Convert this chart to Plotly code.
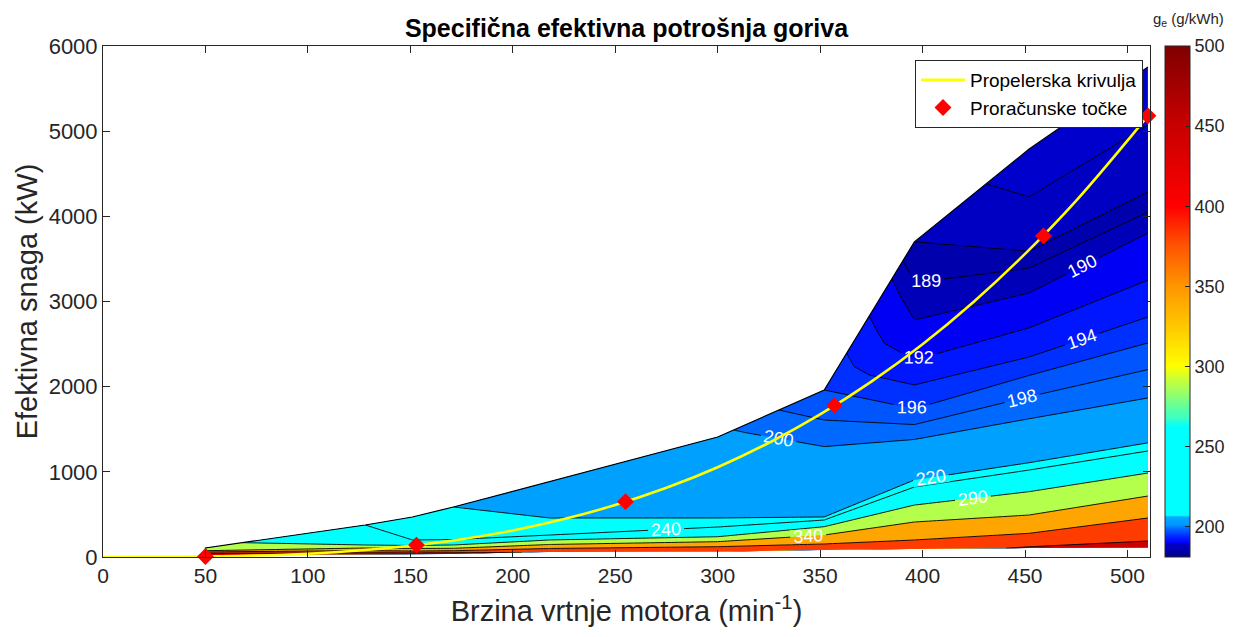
import plotly.graph_objects as go

# ---------------- data ----------------
# engine-map grid: columns = engine speed (min^-1), rows = nodes from low load (bottom) to full load (top)
rpm_cols = [50, 128, 151, 171, 218, 300, 352, 396, 452, 510]

# effective power at each node (kW)
P_grid = [
    [23, 30, 32, 35, 59, 62, 82, 95, 105, 110],
    [43, 50, 48, 50, 59, 62, 82, 95, 120, 188],
    [59, 76, 70, 74, 100, 121, 153, 200, 278, 458],
    [74, 106, 100, 102, 147, 180, 258, 411, 493, 716],
    [106, 141, 135, 141, 200, 238, 356, 610, 767, 986],
    [106, 376, 200, 205, 258, 352, 434, 822, 1021, 1245],
    [106, 376, 470, 587, 458, 458, 470, 904, 1107, 1340],
    [106, 376, 470, 587, 886, 1409, 1296, 1380, 1623, 1867],
    [106, 376, 470, 587, 886, 1409, 1608, 1555, 1883, 2200],
    [106, 376, 470, 587, 886, 1409, 1961, 1740, 2132, 2513],
    [106, 376, 470, 587, 886, 1409, 1961, 2020, 2348, 2818],
    [106, 376, 470, 587, 886, 1409, 1961, 2313, 2690, 3250],
    [106, 376, 470, 587, 886, 1409, 1961, 2783, 3100, 3804],
    [106, 376, 470, 587, 886, 1409, 1961, 3217, 3393, 4050],
    [106, 376, 470, 587, 886, 1409, 1961, 3700, 3590, 4285],
    [106, 376, 470, 587, 886, 1409, 1961, 3700, 4227, 5072],
    [106, 376, 470, 587, 886, 1409, 1961, 3700, 4790, 5753],
]

# specific effective fuel consumption at each node (g/kWh)
ge_grid = [
    [500, 470, 470, 465, 430, 420, 424, 432, 442, 455],
    [440, 440, 440, 440, 430, 420, 424, 432, 440, 440],
    [390, 390, 390, 390, 390, 390, 390, 390, 390, 390],
    [340, 340, 340, 340, 340, 340, 340, 340, 340, 340],
    [305, 290, 290, 290, 290, 290, 290, 290, 290, 290],
    [305, 240, 240, 240, 240, 240, 240, 240, 240, 240],
    [305, 240, 230, 220, 220, 220, 220, 220, 220, 220],
    [305, 240, 230, 220, 212, 200.7, 200, 200, 200, 200],
    [305, 240, 230, 220, 212, 200.7, 198, 198, 198, 198],
    [305, 240, 230, 220, 212, 200.7, 196, 196, 196, 196],
    [305, 240, 230, 220, 212, 200.7, 196, 194, 194, 194],
    [305, 240, 230, 220, 212, 200.7, 196, 192, 192, 192],
    [305, 240, 230, 220, 212, 200.7, 196, 190, 190, 190],
    [305, 240, 230, 220, 212, 200.7, 196, 189, 189, 189],
    [305, 240, 230, 220, 212, 200.7, 196, 188, 188, 188],
    [305, 240, 230, 220, 212, 200.7, 196, 188, 187, 187],
    [305, 240, 230, 220, 212, 200.7, 196, 188, 186.4, 186.1],
]

# propeller curve
prop_rpm = [0, 25, 50, 75, 100, 125, 150, 175, 200, 225, 250, 275, 300, 325, 350,
            375, 400, 425, 450, 475, 510]
prop_P = [0, 1, 5, 17, 39, 76, 132, 209, 312, 445, 610, 812, 1054, 1341, 1674,
          2059, 2499, 2998, 3559, 4185, 5180]

# calculation points
pts_rpm = [50, 153, 255, 357, 459, 510]
pts_P = [5, 140, 650, 1780, 3770, 5180]

# colorbar
cb_min, cb_max = 181, 500
cb_ticks = [200, 250, 300, 350, 400, 450, 500]

# ---------------- styling ----------------
FONT = "Liberation Sans, Arial, Helvetica, sans-serif"
TXT = "#262626"
EPS = 0.001
TR = "rgba(0,0,0,0)"
FIG_W, FIG_H = 1225, 629

n_rows = len(P_grid)
n_cols = len(rpm_cols)
x2d = [[rpm_cols[i] for i in range(n_cols)] for _ in range(n_rows)]

fig = go.Figure()

axis_hidden = dict(showgrid=False, showline=False, showticklabels="none",
                   startline=False, endline=False, minorgridcount=0,
                   smoothing=0, color=TR)
fig.add_trace(go.Carpet(
    carpet="map",
    a=list(range(n_cols)), b=list(range(n_rows)),
    x=x2d, y=P_grid,
    aaxis=axis_hidden, baxis=axis_hidden,
))


def scale(colors):
    n = len(colors) - 1
    return [[i / n, c] for i, c in enumerate(colors)]


# filled bands (stacked groups: each later group paints over regions of higher ge)
fill_groups = [
    (187, 189, 1, ["rgb(0,0,205)", "rgb(0,0,195)", "rgb(0,0,172)", "rgb(0,0,185)"]),
    (190, 198, 2, [TR, "rgb(0,0,245)", "rgb(0,22,255)", "rgb(0,48,255)",
                   "rgb(0,85,255)", "rgb(0,105,255)"]),
    (200, 220, 20, [TR, "rgb(0,160,255)", "rgb(0,255,255)"]),
    (240, 440, 50, [TR, "rgb(0,255,255)", "rgb(180,255,75)", "rgb(255,165,0)",
                    "rgb(255,60,0)", "rgb(205,0,0)"]),
]
for s, e, sz, cols in fill_groups:
    fig.add_trace(go.Contourcarpet(
        carpet="map", z=ge_grid, autocontour=False, showlegend=False,
        contours=dict(start=s - EPS, end=e - EPS, size=sz, coloring="fill",
                      showlines=False),
        colorscale=scale(cols), showscale=False, line=dict(width=0, smoothing=0),
    ))

# contour lines with labels
line_groups = [(187, 190, 1), (192, 200, 2), (220, 240, 20), (290, 440, 50)]
for s, e, sz in line_groups:
    fig.add_trace(go.Contourcarpet(
        carpet="map", z=ge_grid, autocontour=False, showlegend=False,
        contours=dict(start=s - EPS, end=e - EPS, size=sz, coloring="none",
                      showlines=True, showlabels=True, labelformat=".0f",
                      labelfont=dict(family=FONT, size=18, color="white")),
        line=dict(color="black", width=0.9, smoothing=0), showscale=False,
    ))

# outline of the map
fig.add_trace(go.Scatter(
    x=[rpm_cols[0]] + rpm_cols, y=[P_grid[0][0]] + P_grid[-1],
    mode="lines", line=dict(color="black", width=1.2),
    showlegend=False, hoverinfo="skip",
))

# propeller curve & points
fig.add_trace(go.Scatter(
    x=prop_rpm, y=prop_P, mode="lines", line=dict(color="#ffff00", width=2.6, shape="spline"),
    name="Propelerska krivulja",
))
fig.add_trace(go.Scatter(
    x=pts_rpm, y=pts_P, mode="markers", cliponaxis=False,
    marker=dict(symbol="diamond", size=13, color="#ff0000"),
    name="Proračunske točke",
))

# colorbar (dummy trace)
cb_stops = [
    (181, "rgb(0,0,140)"), (189, "rgb(0,0,200)"), (190, "rgb(0,0,255)"),
    (193, "rgb(0,30,255)"), (196, "rgb(0,70,255)"), (199, "rgb(0,110,255)"),
    (201, "rgb(0,150,255)"), (206, "rgb(0,170,255)"), (207, "rgb(0,255,255)"),
    (262, "rgb(0,255,255)"), (268, "rgb(60,255,195)"), (275, "rgb(100,255,155)"),
    (283, "rgb(150,255,105)"), (292, "rgb(200,255,55)"), (300, "rgb(255,255,0)"),
    (325, "rgb(255,200,0)"), (350, "rgb(255,150,0)"), (375, "rgb(255,85,0)"),
    (400, "rgb(255,0,0)"), (450, "rgb(200,0,0)"), (500, "rgb(128,0,0)"),
]
cb_scale = [[(v - cb_min) / (cb_max - cb_min), c] for v, c in cb_stops]
fig.add_trace(go.Scatter(
    x=[-100], y=[-100], mode="markers", showlegend=False, hoverinfo="skip",
    marker=dict(size=1, color=[cb_min], cmin=cb_min, cmax=cb_max, colorscale=cb_scale,
                showscale=True,
                colorbar=dict(xref="container", x=(1165 - 8) / FIG_W, xanchor="left",
                              xpad=0, ypad=0, y=0.5, yanchor="middle",
                              len=1, lenmode="fraction", thickness=25,
                              outlinewidth=1, outlinecolor=TXT,
                              tickvals=cb_ticks, ticks="inside", ticklen=5, tickcolor=TXT,
                              tickfont=dict(family=FONT, size=18, color=TXT))),
))

fig.add_annotation(text="g<sub>e</sub> (g/kWh)", xref="paper", yref="paper",
                   x=1.0363, y=1.051, xanchor="center", yanchor="middle", showarrow=False,
                   font=dict(family=FONT, size=15, color=TXT))

fig.update_layout(
    width=FIG_W, height=FIG_H, autosize=False,
    margin=dict(l=95, r=83, t=38, b=80),
    plot_bgcolor="white", paper_bgcolor="white",
    font=dict(family=FONT, color=TXT),
    title=dict(text="<b>Specifična efektivna potrošnja goriva</b>", x=0.5, xanchor="center",
               xref="paper", y=0.968, yanchor="middle",
               font=dict(family=FONT, size=25, color="black")),
    xaxis=dict(range=[0, 511], tickvals=list(range(0, 501, 50)), ticks="inside", ticklen=7,
               tickcolor=TXT, mirror="ticks", showline=True, linecolor=TXT, linewidth=1,
               showgrid=False, zeroline=False, automargin=False,
               tickfont=dict(size=21, color=TXT),
               title=dict(text="Brzina vrtnje motora (min<sup>-1</sup>)", standoff=14,
                          font=dict(size=29, color=TXT))),
    yaxis=dict(range=[0, 6000], tickvals=list(range(0, 6001, 1000)), ticks="inside", ticklen=7,
               tickcolor=TXT, mirror="ticks", showline=True, linecolor=TXT, linewidth=1,
               showgrid=False, zeroline=False, automargin=False,
               tickfont=dict(size=22, color=TXT),
               title=dict(text="Efektivna snaga (kW)", standoff=2,
                          font=dict(size=29, color=TXT))),
    legend=dict(x=0.9933, xanchor="right", y=0.9726, yanchor="top", bgcolor="white",
                bordercolor=TXT, borderwidth=1, font=dict(size=19, color="black"),
                tracegroupgap=0, itemwidth=44),
    showlegend=True,
)

fig.write_html("out.html")
